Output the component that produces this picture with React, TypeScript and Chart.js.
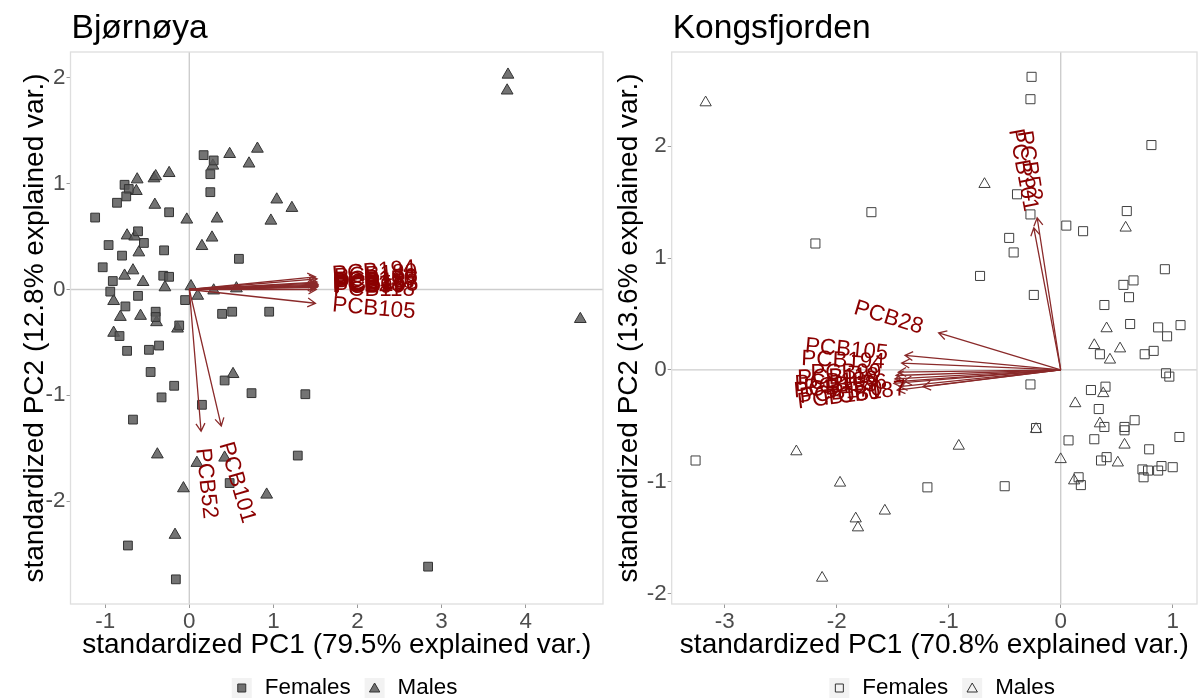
import React, { useEffect, useRef } from "react";
import { Chart, registerables } from "chart.js";

Chart.register(...registerables);

const FONT = '"Liberation Sans", Arial, Helvetica, sans-serif';

// ---------- data ----------
const seriesNames = ["Females", "Males"];

// Bjørnøya scores
const bjFemales: [number, number][] = [
  [0.17, 1.27], [0.29, 1.22], [0.25, 1.09], [0.25, 0.92], [-0.77, 0.99], [-0.72, 0.95], [-0.75, 0.88],
  [-0.86, 0.82], [-1.12, 0.68], [-0.24, 0.73], [-0.61, 0.55], [-0.54, 0.44], [-0.96, 0.42], [-0.8, 0.32],
  [-0.3, 0.37], [0.59, 0.29], [-1.03, 0.21], [-0.91, 0.08], [-0.31, 0.13], [-0.24, 0.12], [-0.94, -0.02],
  [-0.61, -0.06], [-0.76, -0.16], [-0.05, -0.1], [-0.4, -0.21], [-0.4, -0.26], [0.39, -0.23], [0.51, -0.21],
  [0.95, -0.21], [-0.12, -0.34], [-0.83, -0.44], [-0.74, -0.58], [-0.48, -0.57], [-0.36, -0.53], [-0.46, -0.78],
  [0.42, -0.86], [-0.18, -0.91], [0.74, -0.98], [1.38, -0.99], [-0.33, -1.02], [0.15, -1.09], [-0.67, -1.23],
  [1.29, -1.57], [0.48, -1.83], [-0.73, -2.42], [-0.16, -2.74], [2.84, -2.62],
];
const bjMales: [number, number][] = [
  [3.79, 2.03], [3.78, 1.88], [0.48, 1.28], [0.81, 1.33], [0.71, 1.19], [0.28, 1.17], [-0.24, 1.1],
  [-0.62, 1.04], [-0.63, 0.93], [-0.42, 1.05], [-0.4, 1.07], [-0.41, 0.8], [-0.03, 0.66], [0.33, 0.67],
  [1.04, 0.85], [1.22, 0.77], [0.97, 0.65], [-0.74, 0.51], [-0.65, 0.5], [-0.6, 0.35], [0.27, 0.49],
  [0.15, 0.41], [-0.77, 0.13], [-0.67, 0.18], [-0.55, 0.07], [-0.29, 0.02], [0.02, 0.03], [0.29, -0.01],
  [0.56, 0.01], [0.1, -0.06], [-0.9, -0.11], [-0.82, -0.26], [-0.58, -0.25], [-0.39, -0.31], [-0.14, -0.37],
  [-0.9, -0.41], [0.52, -0.8], [-0.38, -1.56], [0.09, -1.64], [0.42, -1.59], [-0.07, -1.88], [0.92, -1.94],
  [-0.17, -2.32], [4.65, -0.28],
];
// Bjørnøya loadings
const bjLoadNames = ["PCB28", "PCB52", "PCB99", "PCB101", "PCB105", "PCB118", "PCB138", "PCB153", "PCB156", "PCB170", "PCB180", "PCB187", "PCB194"];
const bjLoadX = [1.5, 0.14, 1.52, 0.38, 1.5, 1.51, 1.53, 1.53, 1.5, 1.52, 1.52, 1.53, 1.5];
const bjLoadY = [0.03, -1.34, 0.02, -1.29, -0.13, 0.0, 0.04, 0.03, 0.06, 0.07, 0.1, 0.05, 0.12];
const bjXTicks = [-1, 0, 1, 2, 3, 4];
const bjYTicks = [-2, -1, 0, 1, 2];

// Kongsfjorden scores
const kfFemales: [number, number][] = [
  [-1.69, 1.41], [-2.19, 1.13], [-0.26, 2.62], [-0.27, 2.42], [0.81, 2.01], [-0.39, 1.57], [-0.27, 1.39],
  [0.59, 1.42], [0.05, 1.29], [0.2, 1.24], [-0.46, 1.18], [-0.42, 1.05], [-0.72, 0.84], [-0.24, 0.67],
  [0.93, 0.9], [0.56, 0.76], [0.65, 0.8], [0.61, 0.65], [0.39, 0.58], [0.62, 0.41], [0.87, 0.38],
  [1.07, 0.4], [0.95, 0.3], [0.35, 0.14], [0.75, 0.14], [0.83, 0.17], [0.94, -0.03], [0.97, -0.06],
  [-0.27, -0.13], [0.27, -0.18], [0.4, -0.15], [0.34, -0.35], [-0.22, -0.52], [0.39, -0.51], [0.57, -0.51],
  [0.57, -0.54], [0.66, -0.45], [1.06, -0.6], [0.07, -0.63], [0.3, -0.62], [0.79, -0.71], [0.41, -0.78],
  [0.36, -0.81], [0.73, -0.89], [0.78, -0.9], [0.74, -0.96], [0.87, -0.9], [0.9, -0.86], [1.0, -0.87],
  [0.16, -0.96], [0.18, -1.03], [-1.19, -1.05], [-0.5, -1.04], [-3.26, -0.81],
];
const kfMales: [number, number][] = [
  [-3.17, 2.39], [-0.68, 1.66], [0.58, 1.27], [0.41, 0.37], [0.3, 0.22], [0.53, 0.19], [0.44, 0.09],
  [0.38, -0.21], [0.13, -0.3], [0.35, -0.48], [-0.22, -0.53], [0.57, -0.67], [-0.91, -0.68], [0.0, -0.8],
  [0.51, -0.83], [0.12, -0.99], [-2.36, -0.73], [-1.97, -1.01], [-1.83, -1.33], [-1.81, -1.41],
  [-1.57, -1.26], [-2.13, -1.86],
];
// Kongsfjorden loadings
const kfLoadNames = ["PCB28", "PCB52", "PCB99", "PCB101", "PCB105", "PCB118", "PCB138", "PCB153", "PCB156", "PCB170", "PCB180", "PCB187", "PCB194"];
const kfLoadX = [-1.09, -0.21, -1.45, -0.24, -1.39, -1.47, -1.48, -1.49, -1.4, -1.44, -1.46, -1.23, -1.42];
const kfLoadY = [0.33, 1.36, -0.02, 1.27, 0.13, -0.05, -0.08, -0.12, -0.1, -0.15, -0.18, -0.15, 0.06];
const kfXTicks = [-3, -2, -1, 0, 1];
const kfYTicks = [-2, -1, 0, 1, 2];

// ---------- panel specs ----------
type Spec = {
  key: string;
  title: string;
  xTitle: string;
  yTitle: string;
  xMin: number; xMax: number; yMin: number; yMax: number;
  xTicks: number[]; yTicks: number[];
  females: [number, number][]; males: [number, number][];
  names: string[]; lx: number[]; ly: number[];
  filled: boolean;
  yAxisWidth: number; yTitlePad: number; padRight: number;
};

const specs: Spec[] = [
  {
    key: "bj", title: "Bjørnøya",
    xTitle: "standardized PC1 (79.5% explained var.)",
    yTitle: "standardized PC2 (12.8% explained var.)",
    xMin: -1.413, xMax: 4.92, yMin: -2.973, yMax: 2.245,
    xTicks: bjXTicks, yTicks: bjYTicks,
    females: bjFemales, males: bjMales,
    names: bjLoadNames, lx: bjLoadX, ly: bjLoadY,
    filled: true, yAxisWidth: 70.5, yTitlePad: 18.2, padRight: 3,
  },
  {
    key: "kf", title: "Kongsfjorden",
    xTitle: "standardized PC1 (70.8% explained var.)",
    yTitle: "standardized PC2 (13.6% explained var.)",
    xMin: -3.473, xMax: 1.217, yMin: -2.093, yMax: 2.842,
    xTicks: kfXTicks, yTicks: kfYTicks,
    females: kfFemales, males: kfMales,
    names: kfLoadNames, lx: kfLoadX, ly: kfLoadY,
    filled: false, yAxisWidth: 65.7, yTitlePad: 6, padRight: 5,
  },
];

const ARROW = "#8a2a2a";
const LABEL = "#8B0000";

function drawMarker(ctx: CanvasRenderingContext2D, kind: string, x: number, y: number, s: number, filled: boolean) {
  ctx.beginPath();
  if (kind === "rect") {
    ctx.rect(x - s / 2, y - s / 2, s, s);
  } else {
    const r = s;
    ctx.moveTo(x, y - r);
    ctx.lineTo(x + r * 0.866, y + r / 2);
    ctx.lineTo(x - r * 0.866, y + r / 2);
    ctx.closePath();
  }
  if (filled) {
    ctx.fillStyle = "rgba(90,90,90,0.85)";
    ctx.fill();
  }
  ctx.strokeStyle = "#333";
  ctx.lineWidth = 1;
  ctx.stroke();
}

function makePlugin(p: Spec) {
  return {
    id: "biplot_" + p.key,
    beforeDatasetsDraw(chart: any) {
      const { ctx, chartArea: a, scales } = chart;
      const x0 = scales.x.getPixelForValue(0);
      const y0 = scales.y.getPixelForValue(0);
      ctx.save();
      ctx.strokeStyle = "#cdcdcd";
      ctx.lineWidth = 1.4;
      ctx.beginPath();
      ctx.moveTo(a.left, y0); ctx.lineTo(a.right, y0);
      ctx.moveTo(x0, a.top); ctx.lineTo(x0, a.bottom);
      ctx.stroke();
      ctx.strokeStyle = "#dedede";
      ctx.lineWidth = 1.3;
      ctx.strokeRect(a.left, a.top, a.right - a.left, a.bottom - a.top);
      ctx.restore();
    },
    afterDatasetsDraw(chart: any) {
      const { ctx, scales } = chart;
      const xs = scales.x, ys = scales.y;
      const ox = xs.getPixelForValue(0), oy = ys.getPixelForValue(0);
      ctx.save();
      ctx.strokeStyle = ARROW;
      ctx.lineWidth = 1.3;
      for (let i = 0; i < p.names.length; i++) {
        const tx = xs.getPixelForValue(p.lx[i]);
        const ty = ys.getPixelForValue(p.ly[i]);
        const ang = Math.atan2(ty - oy, tx - ox);
        const h = 9, w = Math.PI / 6;
        ctx.beginPath();
        ctx.moveTo(ox, oy); ctx.lineTo(tx, ty);
        ctx.moveTo(tx - h * Math.cos(ang - w), ty - h * Math.sin(ang - w));
        ctx.lineTo(tx, ty);
        ctx.lineTo(tx - h * Math.cos(ang + w), ty - h * Math.sin(ang + w));
        ctx.stroke();
      }
      ctx.fillStyle = LABEL;
      ctx.font = `22.4px ${FONT}`;
      ctx.textBaseline = "middle";
      const gap = 17;
      for (let i = 0; i < p.names.length; i++) {
        const tx = xs.getPixelForValue(p.lx[i]);
        const ty = ys.getPixelForValue(p.ly[i]);
        const ang = Math.atan2(ty - oy, tx - ox);
        const ax = tx + Math.cos(ang) * gap;
        const ay = ty + Math.sin(ang) * gap;
        const rot = -Math.atan(p.ly[i] / p.lx[i]);
        ctx.save();
        ctx.translate(ax, ay);
        ctx.rotate(rot);
        ctx.textAlign = p.lx[i] >= 0 ? "left" : "right";
        ctx.fillText(p.names[i], 0, 0);
        ctx.restore();
      }
      ctx.restore();
    },
    afterDraw(chart: any) {
      const { ctx, chartArea: a } = chart;
      ctx.save();
      // title
      ctx.fillStyle = "#000";
      ctx.font = `33.6px ${FONT}`;
      ctx.textAlign = "left";
      ctx.textBaseline = "alphabetic";
      ctx.fillText(p.title, a.left + 1, 38);
      // legend
      const yc = 688;
      let x = (a.left + a.right) / 2 - 105;
      ctx.font = `22.4px ${FONT}`;
      ctx.textBaseline = "middle";
      seriesNames.forEach((name, i) => {
        ctx.fillStyle = "#f2f2f2";
        ctx.fillRect(x, yc - 10, 20, 20);
        drawMarker(ctx, i === 0 ? "rect" : "tri", x + 10, yc + (i === 0 ? 0 : 1), i === 0 ? 8 : 6, p.filled);
        x += 20 + 13;
        ctx.fillStyle = "#000";
        ctx.fillText(name, x, yc);
        x += ctx.measureText(name).width + 14;
      });
      ctx.restore();
    },
  };
}

function buildConfig(p: Spec): any {
  const fill = p.filled ? "rgba(90,90,90,0.85)" : "rgba(0,0,0,0)";
  const edge = p.filled ? "#333333" : "#404040";
  return {
    type: "scatter",
    data: {
      datasets: [
        {
          label: seriesNames[0],
          data: p.females.map(([x, y]) => ({ x, y })),
          pointStyle: "rect",
          pointRadius: p.filled ? 6.2 : 6.4,
          backgroundColor: fill,
          borderColor: edge,
          borderWidth: 1,
        },
        {
          label: seriesNames[1],
          data: p.males.map(([x, y]) => ({ x, y })),
          pointStyle: "triangle",
          pointRadius: p.filled ? 6.8 : 6.5,
          backgroundColor: fill,
          borderColor: edge,
          borderWidth: 1,
        },
      ],
    },
    options: {
      animation: false,
      responsive: false,
      devicePixelRatio: 1,
      events: [],
      layout: { autoPadding: false, padding: { top: 52, left: 0, right: p.padRight, bottom: 0 } },
      plugins: { legend: { display: false }, tooltip: { enabled: false }, title: { display: false } },
      scales: {
        x: {
          type: "linear",
          min: p.xMin, max: p.xMax,
          afterBuildTicks: (s: any) => { s.ticks = p.xTicks.map((v) => ({ value: v })); },
          afterFit: (s: any) => { s.height = 95; },
          grid: { display: true, drawOnChartArea: false, drawTicks: true, tickLength: 4, tickColor: "#9a9a9a" },
          border: { display: false },
          ticks: {
            color: "#4d4d4d", font: { family: FONT, size: 22.4 }, padding: 0, maxRotation: 0, autoSkip: false,
            callback: (v: any) => String(v),
          },
          title: {
            display: true, text: p.xTitle, color: "#000", font: { family: FONT, size: 28 },
            padding: { top: 0, bottom: 37 },
          },
        },
        y: {
          type: "linear",
          min: p.yMin, max: p.yMax,
          afterBuildTicks: (s: any) => { s.ticks = p.yTicks.map((v) => ({ value: v })); },
          afterFit: (s: any) => { s.width = p.yAxisWidth; },
          grid: { display: true, drawOnChartArea: false, drawTicks: true, tickLength: 4, tickColor: "#9a9a9a" },
          border: { display: false },
          ticks: {
            color: "#4d4d4d", font: { family: FONT, size: 22.4 }, padding: 1, autoSkip: false,
            callback: (v: any) => String(v),
          },
          title: {
            display: true, text: p.yTitle, color: "#000", font: { family: FONT, size: 28 },
            padding: { top: p.yTitlePad, bottom: 0 },
          },
        },
      },
    },
    plugins: [makePlugin(p)],
  };
}

function Panel({ spec, left, width }: { spec: Spec; left: number; width: number }) {
  const ref = useRef<HTMLCanvasElement>(null);
  useEffect(() => {
    if (!ref.current) return;
    const chart = new Chart(ref.current, buildConfig(spec));
    return () => chart.destroy();
  }, [spec]);
  return (
    <canvas
      ref={ref}
      width={width}
      height={699}
      style={{ position: "absolute", left, top: 0, width, height: 699 }}
    />
  );
}

export default function App() {
  return (
    <div style={{ position: "absolute", left: 0, top: 0, width: 1202, height: 699, background: "#fff", overflow: "hidden" }}>
      <Panel spec={specs[0]} left={0} width={606} />
      <Panel spec={specs[1]} left={606} width={596} />
    </div>
  );
}
